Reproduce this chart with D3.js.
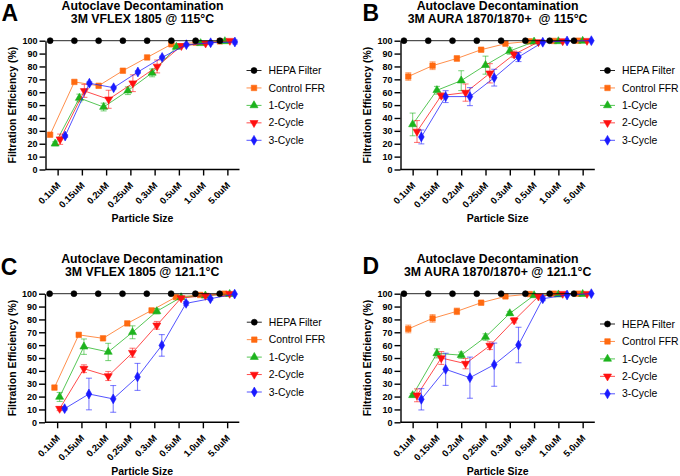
<!DOCTYPE html>
<html>
<head>
<meta charset="utf-8">
<script src="https://cdn.jsdelivr.net/npm/d3@7"></script>
<style>
  html, body { margin: 0; padding: 0; background: #fff; }
  svg { display: block; }
  text { font-family: "Liberation Sans", Arial, sans-serif; }
</style>
</head>
<body>
<svg id="chart" width="680" height="476"></svg>
<script>
// ---------- DATA ----------
const categories = ["0.1uM", "0.15uM", "0.2uM", "0.25uM", "0.3uM", "0.5uM", "1.0uM", "5.0uM"];
const seriesNames = ["HEPA Filter", "Control FFR", "1-Cycle", "2-Cycle", "3-Cycle"];
const yTicks = [0, 10, 20, 30, 40, 50, 60, 70, 80, 90, 100];
const panelLetters = ["A", "B", "C", "D"];
const titleLine1 = ["Autoclave Decontamination", "Autoclave Decontamination", "Autoclave Decontamination", "Autoclave Decontamination"];
const titleLine2 = ["3M VFLEX 1805 @ 115°C", "3M AURA 1870/1870+  @ 115°C", "3M VFLEX 1805 @ 121.1°C", "3M AURA 1870/1870+ @ 121.1°C"];
const xTitle = "Particle Size";
const yTitle = "Filtration Efficiency (%)";

// Panel A: 3M VFLEX 1805 @ 115°C
const a_hepa    = [100, 100, 100, 100, 100, 100, 100, 100];
const a_control = [27, 68, 65, 76.7, 87, 97.2, 98.5, 99.5];
const a_ctrlErr = [0.5, 0.5, 0.5, 0.5, 0.5, 0.5, 0.5, 0.3];
const a_cyc1    = [20, 55.5, 48.5, 61.2, 75, 95.1, 98, 99.5];
const a_cyc1Err = [1.5, 3, 3, 3, 3, 1, 1, 0.5];
const a_cyc2    = [23.5, 61, 54.5, 67, 80, 96, 98, 100];
const a_cyc2Err = [4, 5, 7, 6.5, 5, 1, 1, 0.5];
const a_cyc3    = [26, 67, 63.5, 75.7, 87, 96.9, 98.4, 99];
const a_cyc3Err = [1, 1, 1, 1, 1, 1, 1, 1.5];

// Panel B: 3M AURA 1870/1870+ @ 115°C
const b_hepa    = [100, 100, 100, 100, 100, 100, 100, 100];
const b_control = [72.2, 80.6, 86.2, 93, 97.7, 99.5, 99.8, 100];
const b_ctrlErr = [3, 3, 2, 1, 0.5, 0.5, 0.3, 0.3];
const b_cyc1    = [35, 61.5, 69, 81, 92, 99.2, 99.5, 99.8];
const b_cyc1Err = [8.8, 3, 7.7, 7, 2.5, 0.5, 0.5, 0.3];
const b_cyc2    = [29.5, 57.4, 59.7, 74.7, 89.4, 99, 99.7, 100];
const b_cyc2Err = [8.5, 2, 6.7, 7.5, 2.5, 0.5, 0.3, 0.3];
const b_cyc3    = [25.3, 56.6, 56.6, 71.3, 87.3, 98.8, 99.8, 100];
const b_cyc3Err = [5.4, 4.6, 7, 6.5, 3.5, 0.5, 0.3, 0.3];

// Panel C: 3M VFLEX 1805 @ 121.1°C
const c_hepa    = [100, 100, 100, 100, 100, 100, 100, 100];
const c_control = [27, 68, 65.3, 76.9, 87, 97.4, 99, 100];
const c_ctrlErr = [0.5, 0.5, 0.5, 0.5, 0.5, 0.5, 0.5, 0.3];
const c_cyc1    = [19.7, 58.8, 54.7, 70, 86.3, 97.2, 98.5, 99.7];
const c_cyc1Err = [3.5, 6, 6.7, 5, 2, 1, 0.5, 0.3];
const c_cyc2    = [10.6, 41.7, 36, 54.1, 75.4, 96.6, 98.5, 100];
const c_cyc2Err = [1.5, 3, 3.5, 3.5, 3, 1, 0.5, 0.3];
const c_cyc3    = [10.6, 22, 18.2, 35.3, 59.8, 92.5, 96.1, 99.7];
const c_cyc3Err = [1, 12.3, 10.4, 10.5, 8.4, 1.5, 1, 0.5];

// Panel D: 3M AURA 1870/1870+ @ 121.1°C
const d_hepa    = [100, 100, 100, 100, 100, 100, 100, 100];
const d_control = [72.6, 80.8, 86.3, 93, 97.9, 99.7, 100, 100];
const d_ctrlErr = [3, 3, 2.5, 1, 0.5, 0.3, 0.3, 0.3];
const d_cyc1    = [21, 53.6, 52.2, 66.3, 84.7, 98.7, 99.3, 99.7];
const d_cyc1Err = [1.5, 3.5, 2.5, 2.5, 1.5, 0.5, 0.5, 0.3];
const d_cyc2    = [21, 50, 45.6, 59.6, 79.3, 97.9, 100, 100];
const d_cyc2Err = [5, 5, 4, 3, 2, 0.5, 0.3, 0.3];
const d_cyc3    = [17.9, 41.2, 34.7, 44.8, 60.1, 96.1, 99, 100];
const d_cyc3Err = [8.3, 12.5, 16, 16.8, 13.8, 1.5, 0.5, 0.3];

const zeroErr = [0, 0, 0, 0, 0, 0, 0, 0];

// ---------- STYLE / LAYOUT ----------
const colors = ["#000000", "#FF6A10", "#1DB31D", "#FF1010", "#1A1AFF"];
const symbols = ["circle", "square", "triUp", "triDown", "diamond"];

const panels = [
  { values: [a_hepa, a_control, a_cyc1, a_cyc2, a_cyc3], errs: [zeroErr, a_ctrlErr, a_cyc1Err, a_cyc2Err, a_cyc3Err],
    x0: 45.5, x1: 239.5, yTop: 40.7, yBot: 169.5, offsets: [-7.5, -7.5, -2.5, 2.5, 7.5],
    letterPos: [1.5, 20.7], titleY: 9.7, legendX: 254, legendY: 70.5, yTitleX: 15.5 },
  { values: [b_hepa, b_control, b_cyc1, b_cyc2, b_cyc3], errs: [zeroErr, b_ctrlErr, b_cyc1Err, b_cyc2Err, b_cyc3Err],
    x0: 400.5, x1: 594.8, yTop: 40.7, yBot: 169.5, offsets: [-8.7, -4.35, 0, 4.35, 8.7],
    letterPos: [362.5, 20.7], titleY: 9.7, legendX: 607.5, legendY: 70.5, yTitleX: 370.5 },
  { values: [c_hepa, c_control, c_cyc1, c_cyc2, c_cyc3], errs: [zeroErr, c_ctrlErr, c_cyc1Err, c_cyc2Err, c_cyc3Err],
    x0: 45, x1: 239.3, yTop: 293.7, yBot: 422.3, offsets: [-7.5, -2.7, 2.5, 2.5, 7.5],
    letterPos: [0.8, 274.5], titleY: 262.8, legendX: 254.3, legendY: 322.2, yTitleX: 15.5 },
  { values: [d_hepa, d_control, d_cyc1, d_cyc2, d_cyc3], errs: [zeroErr, d_ctrlErr, d_cyc1Err, d_cyc2Err, d_cyc3Err],
    x0: 400.5, x1: 594.8, yTop: 293.7, yBot: 422.3, offsets: [-8.7, -4.35, 0, 4.35, 8.7],
    letterPos: [362.5, 274], titleY: 262.8, legendX: 607.5, legendY: 324, yTitleX: 370.5 }
];

const svg = d3.select("#chart");

function symbolPath(kind) {
  switch (kind) {
    case "circle": return d3.symbol(d3.symbolCircle, 28)();
    case "square": return d3.symbol(d3.symbolSquare, 30)();
    case "triUp": return d3.symbol(d3.symbolTriangle, 28)();
    case "triDown": return d3.symbol(d3.symbolTriangle, 28)();
    case "diamond": return d3.symbol(d3.symbolDiamond, 28)();
  }
}
function drawSymbol(g, kind, cx, cy, color) {
  g.append("path")
    .attr("d", symbolPath(kind))
    .attr("transform", `translate(${cx},${cy})` + (kind === "triDown" ? " rotate(180)" : ""))
    .attr("fill", color)
    .attr("stroke", color)
    .attr("stroke-width", 0.6);
}

panels.forEach((p, pi) => {
  const g = svg.append("g");
  const x = d3.scalePoint().domain(categories).range([p.x0, p.x1]).padding(0.5);
  const y = d3.scaleLinear().domain([0, 100]).range([p.yBot, p.yTop]);
  const cx = (p.x0 + p.x1) / 2;

  g.append("text").attr("x", p.letterPos[0]).attr("y", p.letterPos[1])
    .attr("font-size", 23).attr("font-weight", "bold").text(panelLetters[pi]);

  g.append("text").attr("x", cx).attr("y", p.titleY).attr("text-anchor", "middle")
    .attr("font-size", 12.3).attr("font-weight", "bold").text(titleLine1[pi]);
  g.append("text").attr("x", cx).attr("y", p.titleY + 13.3).attr("text-anchor", "middle")
    .attr("font-size", 12.3).attr("font-weight", "bold")
    .style("white-space", "pre").text(titleLine2[pi]);

  const yAxis = g.append("g").attr("transform", `translate(${p.x0},0)`)
    .call(d3.axisLeft(y).tickValues(yTicks).tickSize(6).tickSizeOuter(0).tickPadding(2));
  yAxis.selectAll("text").attr("font-size", 9).attr("font-weight", "bold")
    .attr("font-family", "Liberation Sans, Arial, sans-serif").attr("fill", "#000");

  const xAxis = g.append("g").attr("transform", `translate(0,${p.yBot})`)
    .call(d3.axisBottom(x).tickSize(6).tickSizeOuter(0));
  xAxis.select(".domain").attr("d", `M${p.x0},0H${p.x1}`);
  xAxis.selectAll("text")
    .attr("font-size", 9.4).attr("font-weight", "bold")
    .attr("font-family", "Liberation Sans, Arial, sans-serif").attr("fill", "#000")
    .attr("text-anchor", "end").attr("x", 0).attr("y", 0).attr("dy", 0)
    .attr("transform", "translate(2.8,16.5) rotate(-45)");

  [yAxis, xAxis].forEach(ax => {
    ax.select(".domain").attr("stroke", "#000").attr("stroke-width", 1.4);
    ax.selectAll(".tick line").attr("stroke", "#000").attr("stroke-width", 1.4);
  });

  g.append("text").attr("x", cx).attr("y", p.yBot + 52.2).attr("text-anchor", "middle")
    .attr("font-size", 10.5).attr("font-weight", "bold").text(xTitle);
  g.append("text").attr("transform", `translate(${p.yTitleX},${(p.yTop + p.yBot) / 2}) rotate(-90)`)
    .attr("text-anchor", "middle").attr("font-size", 10.5).attr("font-weight", "bold").text(yTitle);

  const order = [1, 2, 3, 4, 0];
  order.forEach(si => {
    const vals = p.values[si];
    const errs = p.errs[si];
    const col = colors[si];
    const sg = g.append("g");
    const pts = categories.map((c, i) => ({ x: x(c) + p.offsets[si], y: y(vals[i]), v: vals[i], e: errs[i] }));
    const line = d3.line().x(d => d.x).y(d => d.y);
    sg.append("path").attr("d", line(pts)).attr("fill", "none")
      .attr("stroke", col).attr("stroke-width", 1).attr("stroke-opacity", si === 0 ? 0.85 : 0.75);
    pts.forEach(d => {
      if (d.e > 0.6) {
        const yt = y(Math.min(d.v + d.e, 101.5));
        const yb = y(d.v - d.e);
        const eb = sg.append("g").attr("stroke", col).attr("stroke-opacity", 0.55).attr("stroke-width", 1.1);
        eb.append("line").attr("x1", d.x).attr("x2", d.x).attr("y1", yt).attr("y2", yb);
        eb.append("line").attr("x1", d.x - 3).attr("x2", d.x + 3).attr("y1", yt).attr("y2", yt);
        eb.append("line").attr("x1", d.x - 3).attr("x2", d.x + 3).attr("y1", yb).attr("y2", yb);
      }
    });
    pts.forEach(d => drawSymbol(sg, symbols[si], d.x, d.y, col));
  });

  const lg = g.append("g");
  seriesNames.forEach((name, si) => {
    const ly = p.legendY + si * 17.45;
    lg.append("line").attr("x1", p.legendX - 7.5).attr("x2", p.legendX + 7.5)
      .attr("y1", ly).attr("y2", ly).attr("stroke", colors[si]).attr("stroke-width", 1)
      .attr("stroke-opacity", si === 0 ? 0.85 : 0.75);
    drawSymbol(lg, symbols[si], p.legendX, ly, colors[si]);
    lg.append("text").attr("x", p.legendX + 14.5).attr("y", ly).attr("dy", "0.35em")
      .attr("font-size", 10.4).text(name);
  });
});
</script>
</body>
</html>
